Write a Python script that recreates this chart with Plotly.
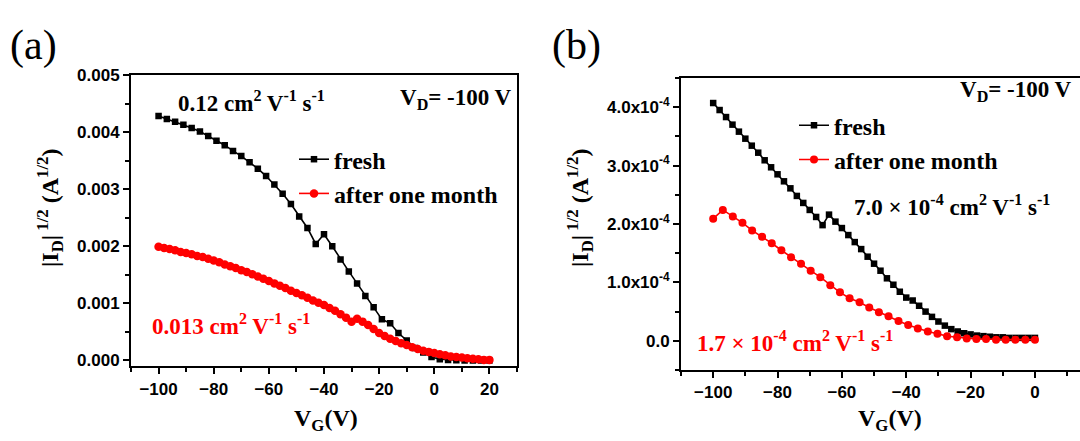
import plotly.graph_objects as go

# ---------------- data ----------------
# panel (a)
vg_a_fresh = [-100, -97, -94, -91, -88, -85, -82, -79, -76, -73, -70, -67, -64, -61,
              -58, -55, -52, -49, -46, -43, -40, -37, -34, -31, -28, -25, -22, -19,
              -16, -13, -10, -7, -4, -1, 2, 5, 8, 11, 14, 17, 20]
id_a_fresh = [0.00428, 0.00423, 0.00418, 0.00413, 0.00407, 0.00401, 0.00393, 0.00385,
              0.00377, 0.00367, 0.00358, 0.00347, 0.00336, 0.00323, 0.00308, 0.00292,
              0.00274, 0.00252, 0.00232, 0.00204, 0.00221, 0.00200, 0.00177, 0.00156,
              0.00135, 0.00113, 0.00093, 0.00072, 0.00065, 0.00048, 0.00035, 0.00022,
              0.00014, 0.00006, 0.00002, 0.00001, 0.000005, 0.0, 0.0, 0.0, 0.0]

vg_a_month = [-100, -98, -96, -94, -92, -90, -88, -86, -84, -82, -80, -78, -76, -74,
              -72, -70, -68, -66, -64, -62, -60, -58, -56, -54, -52, -50, -48, -46,
              -44, -42, -40, -38, -36, -34, -32, -30, -28, -26, -24, -22, -20, -18,
              -16, -14, -12, -10, -8, -6, -4, -2, 0, 2, 4, 6, 8, 10, 12, 14, 16, 18, 20]
id_a_month = [0.00199, 0.00197, 0.00195, 0.00193, 0.00190, 0.00188, 0.00186, 0.00183,
              0.00181, 0.00178, 0.00175, 0.00172, 0.00168, 0.00165, 0.00162, 0.00158,
              0.00155, 0.00151, 0.00147, 0.00143, 0.00139, 0.00135, 0.00131, 0.00127,
              0.00122, 0.00118, 0.00114, 0.00110, 0.00105, 0.00101, 0.00097, 0.00092,
              0.00087, 0.00081, 0.00075, 0.00068, 0.00073, 0.00068, 0.00062, 0.00055,
              0.00048, 0.00043, 0.00038, 0.00034, 0.00030, 0.00027, 0.00023, 0.00020,
              0.00017, 0.00015, 0.00013, 0.00011, 0.00009, 0.00007, 0.00006, 0.00005,
              0.00004, 0.00003, 0.00002, 0.00001, 0.00001]

# panel (b)
vg_b_fresh = [-100, -98, -96, -94, -92, -90, -88, -86, -84, -82, -80, -78, -76, -74,
              -72, -70, -68, -66, -64, -62, -60, -58, -56, -54, -52, -50, -48, -46,
              -44, -42, -40, -38, -36, -34, -32, -30, -28, -26, -24, -22, -20, -18,
              -16, -14, -12, -10, -8, -6, -4, -2, 0]
id_b_fresh = [4.07e-4, 3.95e-4, 3.83e-4, 3.70e-4, 3.58e-4, 3.46e-4, 3.34e-4, 3.22e-4,
              3.09e-4, 2.97e-4, 2.85e-4, 2.73e-4, 2.61e-4, 2.48e-4, 2.36e-4, 2.24e-4,
              2.12e-4, 1.98e-4, 2.16e-4, 2.04e-4, 1.93e-4, 1.81e-4, 1.69e-4, 1.57e-4,
              1.44e-4, 1.32e-4, 1.20e-4, 1.07e-4, 0.96e-4, 0.84e-4, 0.74e-4, 0.69e-4,
              0.60e-4, 0.50e-4, 0.41e-4, 0.33e-4, 0.26e-4, 0.20e-4, 0.16e-4, 0.13e-4,
              0.11e-4, 0.09e-4, 0.08e-4, 0.07e-4, 0.06e-4, 0.06e-4, 0.05e-4, 0.05e-4,
              0.05e-4, 0.05e-4, 0.05e-4]

vg_b_month = [-100, -97, -93.9, -90.9, -87.9, -84.8, -81.8, -78.8, -75.8, -72.7, -69.7,
              -66.7, -63.6, -60.6, -57.6, -54.5, -51.5, -48.5, -45.5, -42.4, -39.4,
              -36.4, -33.3, -30.3, -27.3, -24.2, -21.2, -18.2, -15.2, -12.1, -9.1,
              -6.1, -3.0, 0]
id_b_month = [2.09e-4, 2.24e-4, 2.13e-4, 2.02e-4, 1.89e-4, 1.78e-4, 1.67e-4, 1.55e-4,
              1.43e-4, 1.32e-4, 1.20e-4, 1.09e-4, 0.95e-4, 0.83e-4, 0.73e-4, 0.66e-4,
              0.57e-4, 0.49e-4, 0.42e-4, 0.34e-4, 0.27e-4, 0.21e-4, 0.16e-4, 0.12e-4,
              0.08e-4, 0.06e-4, 0.04e-4, 0.03e-4, 0.03e-4, 0.02e-4, 0.02e-4, 0.02e-4,
              0.02e-4, 0.02e-4]

# tick labels
xticks_a = [-100, -80, -60, -40, -20, 0, 20]
yticks_a = [0.000, 0.001, 0.002, 0.003, 0.004, 0.005]
yticklabels_a = ["0.000", "0.001", "0.002", "0.003", "0.004", "0.005"]
xticks_b = [-100, -80, -60, -40, -20, 0]
yticks_b = [0.0, 1.0e-4, 2.0e-4, 3.0e-4, 4.0e-4]
yticklabels_b = ["0.0", "1.0x10<sup>-4</sup>", "2.0x10<sup>-4</sup>",
                 "3.0x10<sup>-4</sup>", "4.0x10<sup>-4</sup>"]

labels = ["fresh", "after one month"]

# ---------------- figure ----------------
W, H = 1080, 441
SERIF = "Liberation Serif"
SANS = "Liberation Sans"
RED = "#ff0000"


def px(x):
    return x / W


def py(y):
    return 1 - y / H


fig = go.Figure()

fig.add_trace(go.Scatter(x=vg_a_fresh, y=id_a_fresh, mode="lines+markers", name=labels[0],
                         line=dict(color="black", width=1.6),
                         marker=dict(symbol="square", size=6.5, color="black"),
                         xaxis="x", yaxis="y", legend="legend"))
fig.add_trace(go.Scatter(x=vg_a_month, y=id_a_month, mode="lines+markers", name=labels[1],
                         line=dict(color=RED, width=1.6),
                         marker=dict(symbol="circle", size=8.5, color=RED),
                         xaxis="x", yaxis="y", legend="legend"))
fig.add_trace(go.Scatter(x=vg_b_fresh, y=id_b_fresh, mode="lines+markers", name=labels[0],
                         line=dict(color="black", width=1.6),
                         marker=dict(symbol="square", size=6.5, color="black"),
                         xaxis="x2", yaxis="y2", legend="legend2"))
fig.add_trace(go.Scatter(x=vg_b_month, y=id_b_month, mode="lines+markers", name=labels[1],
                         line=dict(color=RED, width=1.6),
                         marker=dict(symbol="circle", size=8, color=RED),
                         xaxis="x2", yaxis="y2", legend="legend2"))

tickfont = dict(family=SANS, size=17, color="black", weight="bold")
axis_common = dict(showline=True, linecolor="black", linewidth=2, ticks="outside",
                   ticklen=6, tickwidth=1.5, tickcolor="black", showgrid=False,
                   zeroline=False, tickfont=tickfont)

legend_font = dict(family=SERIF, size=24, color="black", weight="bold")

fig.update_layout(
    width=W, height=H,
    margin=dict(l=0, r=0, t=0, b=0),
    paper_bgcolor="white", plot_bgcolor="white",
    xaxis=dict(domain=[px(131), px(517)], range=[-110, 30], anchor="y",
               tickvals=xticks_a, mirror=True,
               minor=dict(ticks="outside", ticklen=4, tickwidth=1.5, dtick=10,
                          tick0=0, tickcolor="black"),
               **axis_common),
    yaxis=dict(domain=[py(368), py(68)], range=[-0.0001, 0.005], anchor="x",
               tickvals=yticks_a, ticktext=yticklabels_a, mirror=True,
               minor=dict(ticks="outside", ticklen=4, tickwidth=1.5, dtick=0.0005,
                          tick0=0, tickcolor="black"),
               **axis_common),
    xaxis2=dict(domain=[px(681), 1.0], range=[-110, 14], anchor="y2",
                tickvals=xticks_b, mirror=True,
                minor=dict(ticks="outside", ticklen=4, tickwidth=1.5, dtick=10,
                           tick0=0, tickcolor="black"),
                **axis_common),
    yaxis2=dict(domain=[py(372), py(71)], range=[-0.5e-4, 4.5e-4], anchor="x2",
                tickvals=yticks_b, ticktext=yticklabels_b, mirror=False,
                minor=dict(ticks="outside", ticklen=4, tickwidth=1.5, dtick=0.5e-4,
                           tick0=0, tickcolor="black"),
                **axis_common),
    legend=dict(x=px(294), y=py(132), xanchor="left", yanchor="top",
                bgcolor="rgba(0,0,0,0)", borderwidth=0, tracegroupgap=0,
                font=legend_font, itemwidth=30),
    legend2=dict(x=px(794), y=py(97), xanchor="left", yanchor="top",
                 bgcolor="rgba(0,0,0,0)", borderwidth=0, tracegroupgap=0,
                 font=legend_font, itemwidth=30),
    showlegend=True,
)

ann_font = dict(family=SERIF, size=23, color="black", weight="bold")
red_font = dict(family=SERIF, size=23, color=RED, weight="bold")
title_font = dict(family=SERIF, size=24, color="black", weight="bold")


def ann(text, x, y, font, xanchor="left", textangle=0):
    fig.add_annotation(text=text, x=px(x), y=py(y), xref="paper", yref="paper",
                       xanchor=xanchor, yanchor="middle", showarrow=False,
                       font=font, textangle=textangle)


# panel labels
ann("(a)", 8, 38, dict(family=SERIF, size=42, color="black"))
ann("(b)", 550, 38, dict(family=SERIF, size=42, color="black"))

# panel (a) texts
ann("0.12 cm<sup>2</sup> V<sup>-1</sup> s<sup>-1</sup>", 176, 95, ann_font)
ann("V<sub>D</sub>= -100 V", 514, 93, ann_font, xanchor="right")
ann("0.013 cm<sup>2</sup> V<sup>-1</sup> s<sup>-1</sup>", 150, 325, red_font)
ann("|I<sub>D</sub>|<sup> 1/2</sup> (A<sup>1/2</sup>)", 50, 205, title_font,
    xanchor="center", textangle=-90)
ann("V<sub>G</sub>(V)", 326, 423, title_font, xanchor="center")

# panel (b) texts
ann("V<sub>D</sub>= -100 V", 1074, 84, ann_font, xanchor="right")
ann("7.0 × 10<sup>-4</sup> cm<sup>2</sup> V<sup>-1</sup> s<sup>-1</sup>", 852, 202, ann_font)
ann("1.7 × 10<sup>-4</sup> cm<sup>2</sup> V<sup>-1</sup> s<sup>-1</sup>", 695, 343, red_font)
ann("|I<sub>D</sub>|<sup> 1/2</sup> (A<sup>1/2</sup>)", 580, 205, title_font,
    xanchor="center", textangle=-90)
ann("V<sub>G</sub>(V)", 890, 423, title_font, xanchor="center")

fig.write_html("out.html", config={"displayModeBar": False},
               post_script="document.body.style.margin='0';document.body.style.padding='0';")
